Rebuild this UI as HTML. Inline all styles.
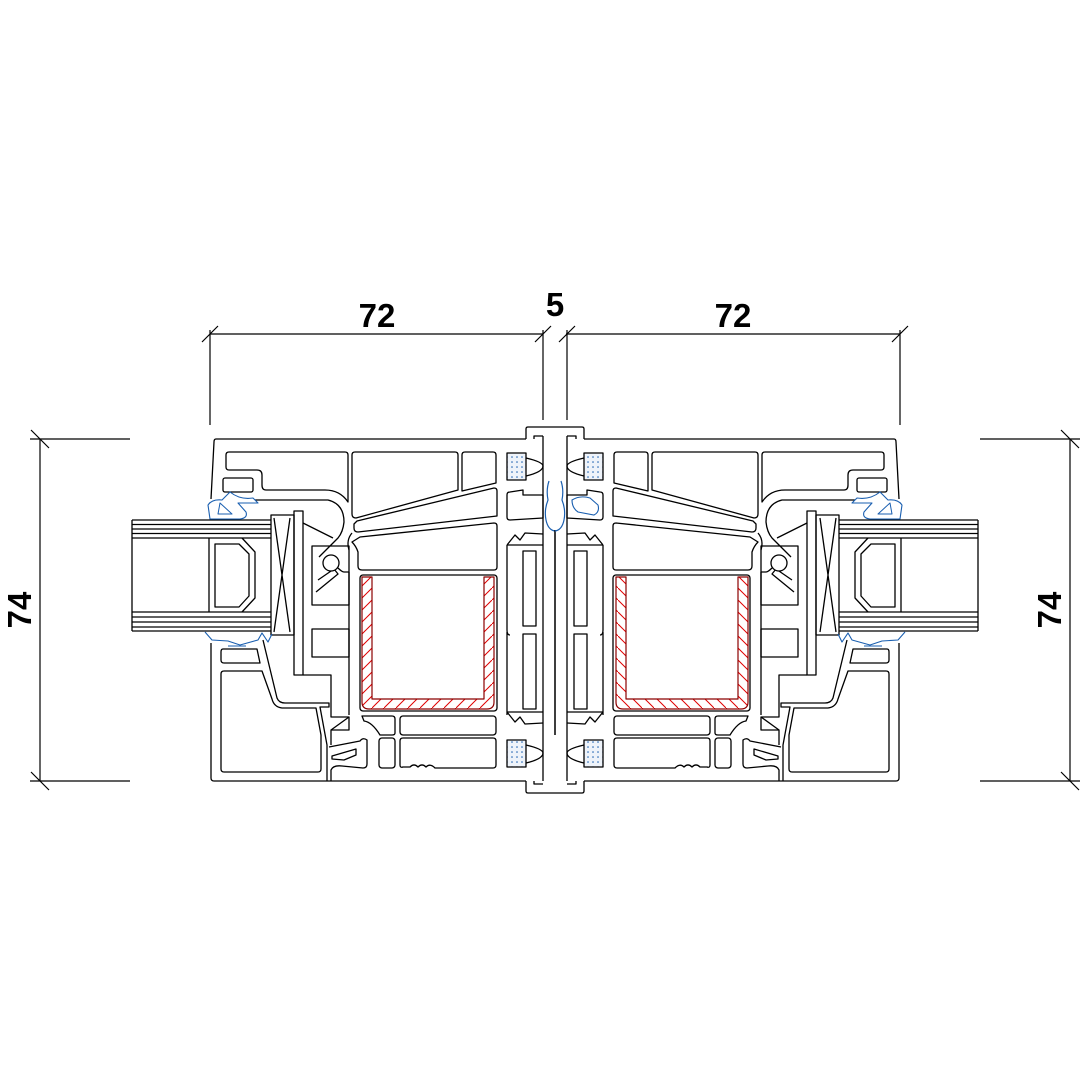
<!DOCTYPE html>
<html><head><meta charset="utf-8"><style>
html,body{margin:0;padding:0;background:#fff}
svg{display:block}
text{font-family:"Liberation Sans",sans-serif;font-weight:bold;fill:#000}
</style></head><body>
<svg width="1080" height="1080" viewBox="0 0 1080 1080" xmlns="http://www.w3.org/2000/svg">
<defs>
<pattern id="h" width="12" height="12" patternUnits="userSpaceOnUse">
<path d="M-1,13 L13,-1" stroke="#e00000" stroke-width="1"/>
</pattern>
<pattern id="d" width="5" height="5" patternUnits="userSpaceOnUse">
<rect x="0" y="0" width="5" height="5" fill="#eef3fa"/>
<circle cx="2" cy="2" r="0.8" fill="#1a5fb0"/>
</pattern>
<g id="L" fill="none" stroke="#000" stroke-width="1.3" stroke-linejoin="round">
<path d="M526,439 H216 Q214,439 214,442 L211,499"/>
<path d="M229,452 H345 Q348,452 348,455 V502 Q340,490 325,490 H266 Q262,490 262,485 V475 Q262,470 257,470 H229 Q226,470 226,467 V455 Q226,452 229,452 Z"/>
<rect x="223" y="478" width="30" height="14" rx="2"/>
<path d="M255,500 H328 Q344,504 344,522 Q343,532 338,538 L319,557"/>
<path d="M303,523 L333,538"/>
<path d="M132,520 H271 M132,524.5 H271 M132,529 H271 M132,533.5 H271 M132,538 H271 M132,612 H271 M132,617 H271 M132,622 H271 M132,627 H271 M132,631 H271 M132,520 V631"/>
<path d="M209,538 V612 M242,538 L255,552 V598 L242,612"/>
<path d="M215,544 H239 L249,554 V596 L239,607 H215 Z"/>
<rect x="271" y="515" width="23" height="120"/>
<path d="M274,518 L290,632 M290,518 L274,632"/>
<rect x="294" y="511" width="9" height="164"/>
<path d="M303,675 H331 V717 H349 V730 H331 V745"/>
<path d="M331,730 L349,717"/>
<rect x="312" y="546" width="37" height="59"/>
<path d="M318,580 L334,569 L338,574 L316,592"/>
<circle cx="331" cy="563" r="8" fill="#fff"/>
<path d="M338,568 Q342,572 344,572 H349"/>
<rect x="312" y="629" width="37" height="28"/>
<path d="M349,572 V715"/>
<path d="M349,550 Q346,540 352,533"/>
<path d="M355,452 H455 Q458,452 458,455 V490 L356,518 Q352,518 352,514 V455 Q352,452 355,452 Z"/>
<path d="M465,452 H493 Q496,452 496,455 V483 L462,491 V455 Q462,452 465,452 Z"/>
<path d="M357,521 L494,488 Q497,488 497,491 V516 L358,532 Q354,532 354,528 V524 Z"/>
<path d="M360,537 L494,523 Q497,523 497,526 V567 Q497,570 494,570 H362 Q358,570 358,566 V552 Q356,546 352,542 Z"/>
<rect x="360" y="575" width="137" height="136" rx="3"/>
<path d="M362,577 H372 V699 H484 V577 H494 V702 Q494,709 487,709 H369 Q362,709 362,702 Z" fill="url(#h)" stroke="#8b0000" stroke-width="1.2"/>
<path d="M362,716 H392 Q395,716 395,719 V733 Q395,735 392,735 H380 Q372,722 364,721 Z"/>
<rect x="400" y="716" width="96" height="19" rx="3"/>
<rect x="379" y="738" width="16" height="30" rx="3"/>
<path d="M403,738 H493 Q496,738 496,741 V765 Q496,768 493,768 H435 Q430,763 426,767 Q422,763 418,767 Q414,763 410,767 H403 Q400,768 400,765 V741 Q400,738 403,738 Z"/>
<path d="M329,747 L360,741 Q363,737 367,740 V764 Q367,768 363,768 L342,766 Q333,765 331,770 V781"/>
<path d="M332,756 L356,749 L356,755 L344,760 L332,759 Z"/>
<path d="M211,643 V778 Q211,781 214,781 H526"/>
<path d="M263,640 L277,698 Q279,703 285,703 H329 V707 H320 L327,745 V781"/>
<path d="M224,671 H262 L272,699 Q274,707 282,708 H316 L321,735 V769 Q321,772 318,772 H224 Q221,772 221,769 V674 Q221,671 224,671 Z"/>
<path d="M223,649 H257 L260,663 H224 Q221,663 221,660 V652 Q221,649 223,649 Z"/>
<path d="M230,492 Q240,500 253,498 L258,503 L238,503 L246,512 Q248,518 240,519 L210,519 L208,505 Q212,499 222,500 Z" stroke="#1a5fb0" stroke-width="1.1"/>
<path d="M220,503 L232,514 L218,514 Z" stroke="#1a5fb0" stroke-width="1"/>
<path d="M205,632 L212,640 L228,641 L240,645 L258,640 L262,633 L268,642 L272,634" stroke="#1a5fb0" stroke-width="1.1"/>
<path d="M228,646 H246" stroke="#1a5fb0" stroke-width="1.1"/>
<path d="M526,439 V429 Q526,427 528,427 H555"/>
<path d="M534,439 V436 H543"/>
<path d="M543,436 V781 M555,530 V735"/>
<path d="M526,781 V791 Q526,793 528,793 H555 M534,781 V784 H543"/>
<rect x="507" y="453" width="19" height="27" fill="url(#d)" stroke="#000"/>
<rect x="507" y="740" width="19" height="27" fill="url(#d)" stroke="#000"/>
<path d="M526,458 Q543,462 543,466 Q543,472 526,476"/>
<path d="M526,745 Q543,749 543,753 Q543,759 526,763"/>
<path d="M510,492 L523,490 L523,495 L543,495 V518 L510,520 Q507,520 507,517 V495 Q507,492 510,492 Z"/>
<path d="M507,545 V630 Q507,635 510,635 M507,632 V715"/>
<path d="M507,545 L515,535 L520,540 L525,533 L543,534 M507,545 H543"/>
<rect x="523" y="551" width="13" height="75"/>
<rect x="523" y="634" width="13" height="75"/>
<path d="M507,712 H543 M507,712 L515,722 L520,717 L525,724 L543,723"/>
<path d="M549,481 Q546,490 548,500 Q544,510 546,520 Q548,530 555,531" stroke="#1a5fb0" stroke-width="1.2"/>
</g>
</defs>
<use href="#L"/>
<use href="#L" transform="translate(1110,0) scale(-1,1)"/>
<path d="M572,500 Q580,495 590,498 L598,505 Q600,512 594,515 L578,512 Q572,508 572,500 Z" fill="none" stroke="#1a5fb0" stroke-width="1.1"/>
<g stroke="#000" stroke-width="1.2" fill="none">
<path d="M210,334 H543 M566,334 H900"/>
<path d="M210,330 V425 M543,330 V420 M567,330 V420 M900,330 V425"/>
<path d="M202,342 L218,326 M535,342 L551,326 M559,342 L575,326 M892,342 L908,326"/>
<path d="M40,439 V781 M30,439 H130 M30,781 H130 M1070,439 V781 M980,439 H1080 M980,781 H1080"/>
<path d="M31,430 L49,448 M31,772 L49,790 M1061,430 L1079,448 M1061,772 L1079,790"/>
</g>
<text x="377" y="327" font-size="33" text-anchor="middle">72</text>
<text x="733" y="327" font-size="33" text-anchor="middle">72</text>
<text x="555" y="316" font-size="33" text-anchor="middle">5</text>
<text x="0" y="0" font-size="33" text-anchor="middle" transform="translate(31,610) rotate(-90)">74</text>
<text x="0" y="0" font-size="33" text-anchor="middle" transform="translate(1061,610) rotate(-90)">74</text>
</svg>
</body></html>
